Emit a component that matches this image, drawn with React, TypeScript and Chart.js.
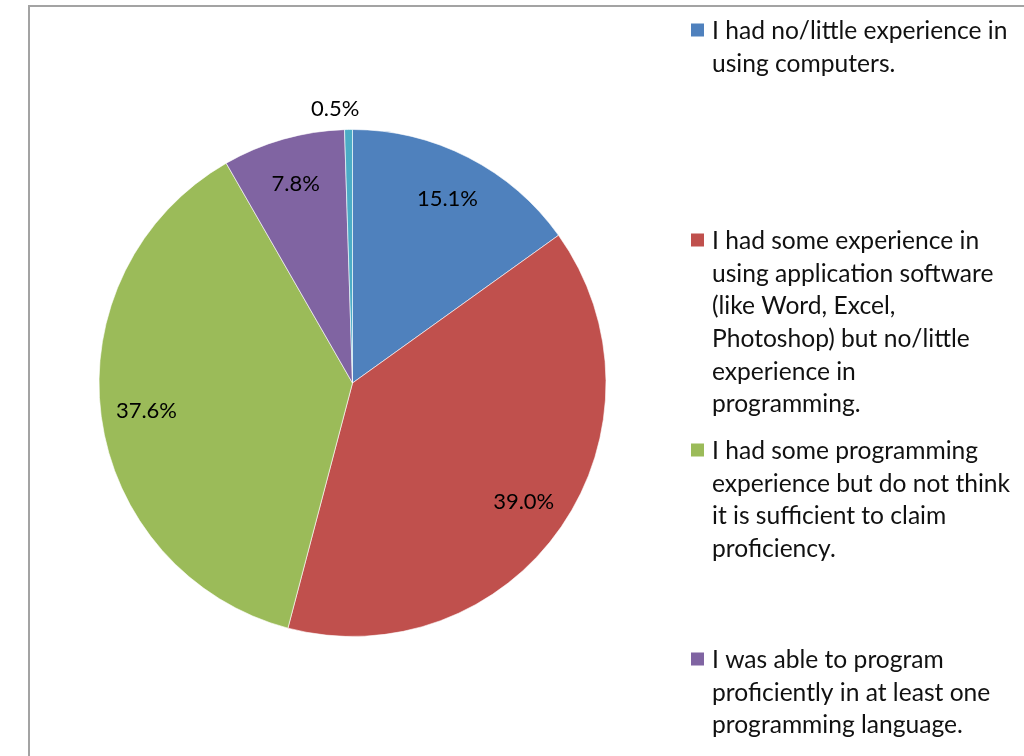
import React, { useEffect, useRef } from "react";
import { Chart, registerables } from "chart.js";

Chart.register(...registerables);

const categories: string[][] = [
  ["I had no/little experience in", "using computers."],
  [
    "I had some experience in",
    "using application software",
    "(like Word, Excel,",
    "Photoshop) but no/little",
    "experience in",
    "programming.",
  ],
  [
    "I had some programming",
    "experience but do not think",
    "it is sufficient to claim",
    "proficiency.",
  ],
  [
    "I was able to program",
    "proficiently in at least one",
    "programming language.",
  ],
  ["Other"],
];
const values: number[] = [15.1, 39.0, 37.6, 7.8, 0.5];
const valueLabels: string[] = ["15.1%", "39.0%", "37.6%", "7.8%", "0.5%"];
const colors: string[] = ["#4F81BD", "#C0504D", "#9BBB59", "#8064A2", "#4BACC6"];
const legendShown: boolean[] = [true, true, true, true, false];

const FONT = "Lato, 'Open Sans', sans-serif";

const labelPlugin = {
  id: "sliceLabels",
  afterDatasetsDraw(chart: any) {
    const ctx = chart.ctx;
    const meta = chart.getDatasetMeta(0);
    ctx.save();
    ctx.font = `22px ${FONT}`;
    ctx.fillStyle = "#000";
    ctx.textAlign = "center";
    ctx.textBaseline = "middle";
    meta.data.forEach((arc: any, i: number) => {
      const { x, y, startAngle, endAngle, outerRadius } = arc.getProps(
        ["x", "y", "startAngle", "endAngle", "outerRadius"],
        true
      );
      const mid = (startAngle + endAngle) / 2;
      const small = values[i] < 2;
      const r = small ? outerRadius * 1.085 : outerRadius * 0.82;
      const dx = small ? -13 : 0;
      ctx.fillText(valueLabels[i], x + Math.cos(mid) * r + dx, y + Math.sin(mid) * r + 1);
    });
    ctx.restore();
  },
};

const legendPlugin = {
  id: "wrappedLegend",
  afterDraw(chart: any) {
    const ctx = chart.ctx;
    const tops = [30, 240, 450, 659];
    const lineH = 32.7;
    ctx.save();
    ctx.font = `24.6px ${FONT}`;
    ctx.textBaseline = "middle";
    ctx.textAlign = "left";
    let k = 0;
    categories.forEach((lines, i) => {
      if (!legendShown[i]) return;
      const y0 = tops[k++];
      ctx.fillStyle = colors[i];
      ctx.fillRect(691, y0 - 6.5, 13, 13);
      ctx.fillStyle = "#111";
      lines.forEach((ln, j) => ctx.fillText(ln, 712, y0 + 1 + j * lineH));
    });
    ctx.restore();
  },
};

export default function App() {
  const ref = useRef<HTMLCanvasElement>(null);
  useEffect(() => {
    if (!ref.current) return;
    const chart = new Chart(ref.current, {
      type: "pie",
      data: {
        labels: categories.map((c) => c.join(" ")),
        datasets: [
          {
            data: values,
            backgroundColor: colors,
            borderColor: "rgba(255,255,255,0.6)",
            borderWidth: 1,
          },
        ],
      },
      options: {
        animation: false,
        responsive: false,
        maintainAspectRatio: false,
        layout: { padding: { left: 98, right: 417, top: 129, bottom: 119 } },
        plugins: { legend: { display: false }, tooltip: { enabled: false } },
      },
      plugins: [labelPlugin, legendPlugin],
    });
    return () => chart.destroy();
  }, []);
  return (
    <div
      style={{
        position: "fixed",
        left: 0,
        top: 0,
        width: 1024,
        height: 756,
        overflow: "hidden",
        background: "#fff",
      }}
    >
      <div
        style={{
          position: "absolute",
          left: 28,
          top: 5,
          width: 1200,
          height: 1000,
          border: "2px solid #a3a3a3",
          boxSizing: "border-box",
        }}
      />
      <canvas
        ref={ref}
        width={1024}
        height={756}
        style={{ position: "absolute", left: 0, top: 0, width: 1024, height: 756 }}
      />
    </div>
  );
}
